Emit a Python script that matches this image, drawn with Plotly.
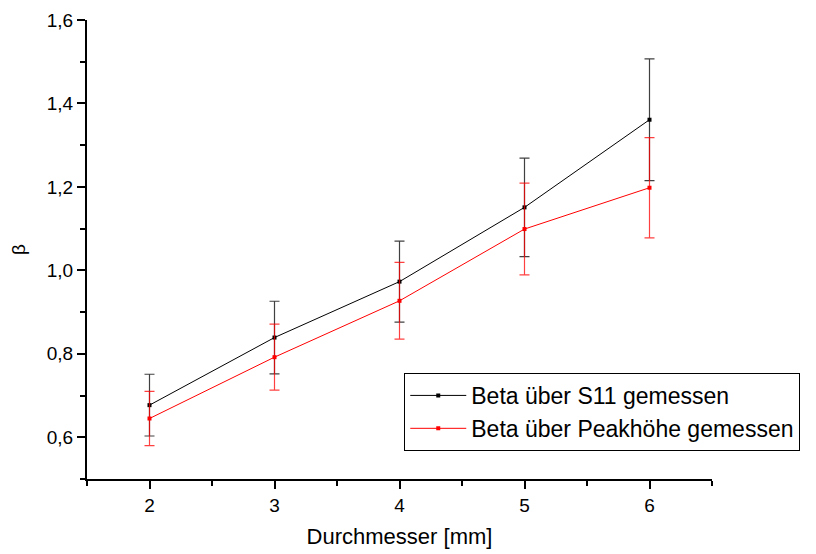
import plotly.graph_objects as go

durchmesser = [2, 3, 4, 5, 6]
beta_s11 = [0.677, 0.839, 0.973, 1.151, 1.361]
err_s11 = [0.074, 0.087, 0.097, 0.118, 0.146]
beta_peak = [0.645, 0.792, 0.927, 1.099, 1.198]
err_peak = [0.065, 0.079, 0.092, 0.110, 0.120]

FONT = "Liberation Sans, Arial, sans-serif"

fig = go.Figure()
fig.add_trace(go.Scatter(
    x=durchmesser, y=beta_s11, mode="lines+markers",
    name="Beta über S11 gemessen",
    line=dict(color="black", width=1),
    marker=dict(symbol="square", size=4, color="black"),
    error_y=dict(type="data", array=err_s11, visible=True,
                 color="rgba(0,0,0,0.75)", thickness=1.2, width=5),
))
fig.add_trace(go.Scatter(
    x=durchmesser, y=beta_peak, mode="lines+markers",
    name="Beta über Peakhöhe gemessen",
    line=dict(color="red", width=1),
    marker=dict(symbol="square", size=4, color="red"),
    error_y=dict(type="data", array=err_peak, visible=True,
                 color="rgba(255,0,0,0.75)", thickness=1.2, width=5),
))

fig.update_layout(
    width=808, height=546,
    margin=dict(l=79, r=104, t=12, b=75),
    paper_bgcolor="white", plot_bgcolor="white",
    separators=",.",
    font=dict(family=FONT, color="black", size=19),
    showlegend=True,
    legend=dict(
        x=0.5076, y=0.231, xanchor="left", yanchor="top",
        bordercolor="black", borderwidth=1, bgcolor="white",
        font=dict(size=23, family=FONT), itemwidth=56,
        tracegroupgap=0,
    ),
    xaxis=dict(
        range=[1.5, 6.5], tick0=2, dtick=1, tickformat="d",
        automargin=False,
        showgrid=False, zeroline=False,
        showline=True, linecolor="black", linewidth=2,
        ticks="outside", ticklen=8, tickwidth=2, tickcolor="black",
        minor=dict(ticks="outside", ticklen=5, tickwidth=2, tickcolor="black",
                   dtick=0.5, tick0=1.5, showgrid=False),
        tickfont=dict(size=19),
        title=dict(text="Durchmesser [mm]", font=dict(size=22), standoff=14),
    ),
    yaxis=dict(
        range=[0.5, 1.6], tick0=0.6, dtick=0.2, tickformat=".1f",
        automargin=False,
        showgrid=False, zeroline=False,
        showline=True, linecolor="black", linewidth=2,
        ticks="outside", ticklen=8, tickwidth=2, tickcolor="black",
        minor=dict(ticks="outside", ticklen=5, tickwidth=2, tickcolor="black",
                   dtick=0.1, tick0=0.5, showgrid=False),
        tickfont=dict(size=19),
        title=dict(text="β", font=dict(size=19), standoff=22),
    ),
)

fig.write_html("out.html")
